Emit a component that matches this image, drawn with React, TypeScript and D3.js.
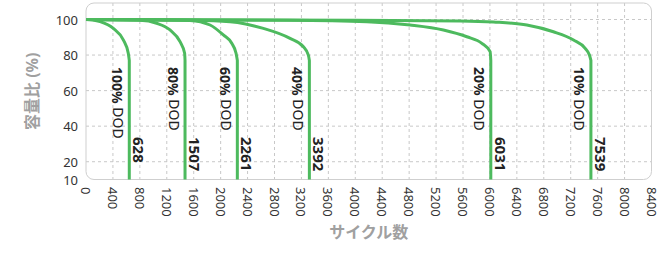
import * as d3 from "d3";

const W = 666;
const H = 253;

// plot box (px)
const LEFT = 86;
const RIGHT = 651.5;
const TOP = 3;
const BOTTOM = 179.5;

const X_TICKS = d3.range(0, 8401, 400);
const Y_TICKS = [10, 20, 40, 60, 80, 100];
const Y_GRID = [20, 40, 60, 80, 100];

const DOD_LABELS = ["100%", "80%", "60%", "40%", "20%", "10%"];
const CYCLE_LABELS = ["628", "1507", "2261", "3392", "6031", "7539"];

// [cycles, capacity %]; last point is where the line turns vertical
const dod100: [number, number][] = [[0, 100], [100, 99.7], [208, 98.8], [406, 95], [554, 88.5], [628, 81], [643, 77]];
const dod80: [number, number][] = [[0, 100], [800, 99.6], [1050, 97.9], [1248, 94.1], [1397, 87.5], [1465, 81], [1471, 77]];
const dod60: [number, number][] = [[0, 100], [1000, 99.8], [1545, 99.5], [1843, 96.9], [2040, 91.3], [2165, 86.6], [2229, 81], [2248, 77]];
const dod40: [number, number][] = [[0, 100], [1600, 99.6], [2140, 98.8], [2635, 95], [3031, 89.4], [3229, 84.7], [3303, 80], [3318, 77]];
const dod20: [number, number][] = [[0, 100], [3000, 99.6], [4171, 98.8], [4814, 96.9], [5309, 94.1], [5657, 90.3], [5880, 86.6], [6003, 81.9], [6013, 77]];
const dod10: [number, number][] = [[0, 100], [4000, 99.6], [5557, 99.2], [6052, 98.6], [6548, 96.9], [6943, 93.1], [7241, 88.5], [7415, 83.8], [7478, 80], [7500, 77]];
const SERIES = [dod100, dod80, dod60, dod40, dod20, dod10];

const GREEN = "#4dba5e";
const GRID = "#c8c8c8";
const FONT = "'Noto Sans', 'Noto Sans CJK JP', sans-serif";

export default function App() {
  const x = d3.scaleLinear().domain([0, 8400]).range([LEFT, RIGHT]);
  const y = d3.scaleLinear().domain([10, 100]).range([BOTTOM, 19.5]);

  const line = d3
    .line<[number, number]>()
    .x((d) => x(d[0]))
    .y((d) => y(d[1]))
    .curve(d3.curveMonotoneX);

  return (
    <svg
      width={W}
      height={H}
      style={{ position: "absolute", left: 0, top: 0, background: "#fff" }}
      fontFamily={FONT}
    >
      {/* grid */}
      {X_TICKS.filter((t) => t > 0 && t < 8400).map((t) => (
        <line key={`gx${t}`} x1={x(t)} x2={x(t)} y1={TOP} y2={BOTTOM} stroke={GRID} strokeDasharray="3,3" />
      ))}
      {Y_GRID.map((t) => (
        <line key={`gy${t}`} x1={LEFT} x2={RIGHT} y1={y(t)} y2={y(t)} stroke={GRID} strokeDasharray="3,3" />
      ))}
      <rect x={LEFT} y={TOP} width={RIGHT - LEFT} height={BOTTOM - TOP} rx={8} fill="none" stroke="#cfcfcf" />

      {/* y ticks */}
      {Y_TICKS.map((t) => (
        <text key={`yt${t}`} x={78} y={y(t)} textAnchor="end" dominantBaseline="central" fontSize={13} fill="#333">
          {t}
        </text>
      ))}

      {/* x ticks */}
      {X_TICKS.map((t) => (
        <text
          key={`xt${t}`}
          transform={`translate(${x(t)},187) rotate(90)`}
          dominantBaseline="central"
          fontSize={13}
          fill="#333"
        >
          {t}
        </text>
      ))}

      {/* curves */}
      {SERIES.map((pts, i) => {
        const end = pts[pts.length - 1][0];
        return (
          <path
            key={`c${i}`}
            d={`${line(pts)}L${x(end)},${y(10)}`}
            fill="none"
            stroke={GREEN}
            strokeWidth={3}
          />
        );
      })}

      {/* labels */}
      {SERIES.map((pts, i) => {
        const xe = x(pts[pts.length - 1][0]);
        return (
          <g key={`l${i}`}>
            <text
              transform={`translate(${xe - 11},67) rotate(90)`}
              dominantBaseline="central"
              fontSize={14}
              fill="#222"
            >
              <tspan fontWeight="bold">{DOD_LABELS[i]}</tspan> DOD
            </text>
            <text
              transform={`translate(${xe + 10},137) rotate(90)`}
              dominantBaseline="central"
              fontSize={15}
              fontWeight="bold"
              fill="#222"
            >
              {CYCLE_LABELS[i]}
            </text>
          </g>
        );
      })}

      {/* axis titles */}
      <text
        transform={`translate(32,${(TOP + BOTTOM) / 2}) rotate(-90)`}
        textAnchor="middle"
        dominantBaseline="central"
        fontSize={16}
        fontWeight="bold"
        fill="#a0a0a0"
      >
        容量比 (%)
      </text>
      <text
        x={(LEFT + RIGHT) / 2}
        y={232}
        textAnchor="middle"
        dominantBaseline="central"
        fontSize={16}
        fontWeight="bold"
        fill="#a0a0a0"
      >
        サイクル数
      </text>
    </svg>
  );
}
